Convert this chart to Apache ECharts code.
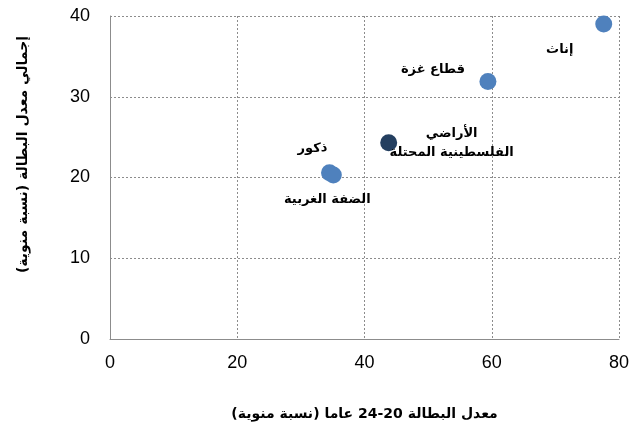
<!DOCTYPE html>
<html lang="ar">
<head>
<meta charset="utf-8">
<script src="https://cdn.jsdelivr.net/npm/echarts@6/dist/echarts.min.js"></script>
<style>
  html, body { margin: 0; padding: 0; background: #fff; }
  #chart { width: 637px; height: 429px; }
</style>
</head>
<body>
<div id="chart"></div>
<script>
// بيانات الرسم
var names = ['إناث', 'قطاع غزة', 'الأراضي\nالفلسطينية المحتلة', 'ذكور', 'الضفة الغربية'];
var youthRate = [77.6, 59.4, 43.8, 34.5, 35.1];
var totalRate = [39.0, 31.9, 24.3, 20.6, 20.3];
var xTicks = [0, 20, 40, 60, 80];
var yTicks = [0, 10, 20, 30, 40];

var chart = echarts.init(document.getElementById('chart'));

// label placement per point (style only)
var labelOffset = [[-44, 26], [-55, -12], [63, 0], [-17, -24], [-6, 25]];
var colors = ['#4f81bd', '#4f81bd', '#243f60', '#4f81bd', '#4f81bd'];

var points = names.map(function (n, i) {
  return {
    name: n,
    value: [youthRate[i], totalRate[i]],
    itemStyle: { color: colors[i], opacity: 1 },
    label: {
      show: true,
      formatter: '{b}',
      position: 'inside',
      offset: labelOffset[i],
      fontFamily: 'DejaVu Sans, sans-serif',
      fontWeight: 'bold',
      fontSize: 13,
      lineHeight: 19,
      color: '#000',
      align: 'center',
      verticalAlign: 'middle'
    }
  };
});

var option = {
  backgroundColor: '#fff',
  animation: false,
  grid: { left: 110, right: 18, top: 16, bottom: 90 },
  xAxis: {
    type: 'value',
    min: 0, max: 80, interval: 20,
    name: 'معدل البطالة 20-24 عاما (نسبة منوية)',
    nameLocation: 'middle',
    nameGap: 68,
    nameTextStyle: { fontFamily: 'DejaVu Sans, sans-serif', fontWeight: 'bold', fontSize: 14, color: '#000' },
    axisLine: { show: true, lineStyle: { color: '#8c8c8c', width: 1 } },
    axisTick: { show: false },
    axisLabel: { fontFamily: 'Liberation Sans, Arial, sans-serif', fontSize: 18, color: '#000', margin: 15 },
    splitLine: { show: true, lineStyle: { color: '#8c8c8c', type: [2, 2], width: 1 } }
  },
  yAxis: {
    type: 'value',
    min: 0, max: 40, interval: 10,
    name: 'إجمالي معدل البطالة (نسبة منوية)',
    nameLocation: 'middle',
    nameGap: 80,
    nameRotate: 90,
    nameTextStyle: { fontFamily: 'DejaVu Sans, sans-serif', fontWeight: 'bold', fontSize: 14, color: '#000', padding: [0, 0, 0, 46] },
    axisLine: { show: true, lineStyle: { color: '#8c8c8c', width: 1 } },
    axisTick: { show: false },
    axisLabel: { fontFamily: 'Liberation Sans, Arial, sans-serif', fontSize: 18, color: '#000', margin: 20 },
    splitLine: { show: true, lineStyle: { color: '#8c8c8c', type: [2, 2], width: 1 } }
  },
  series: [{
    type: 'scatter',
    symbolSize: 17,
    itemStyle: { opacity: 1 },
    data: points
  }]
};

chart.setOption(option);
</script>
</body>
</html>
